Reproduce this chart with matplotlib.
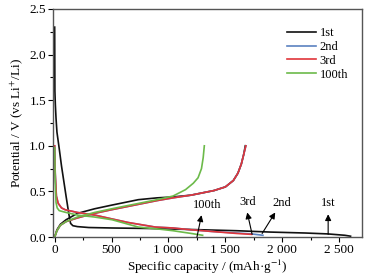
import matplotlib
matplotlib.use("Agg")
import matplotlib.pyplot as plt

plt.rcParams["font.family"] = ["Liberation Serif", "DejaVu Serif"]
plt.rcParams["mathtext.fontset"] = "stix"

# cycle data (capacity in mAh/g, potential in V)
c1_dis_x = [0, 2, 6, 12, 20, 40, 60, 100, 125, 140, 160, 200, 300, 500, 800, 1000, 1300, 1600, 1900, 2200, 2400, 2550, 2600]
c1_dis_y = [2.3, 1.6, 1.45, 1.3, 1.15, 0.97, 0.78, 0.45, 0.25, 0.15, 0.125, 0.115, 0.105, 0.1, 0.095, 0.09, 0.08, 0.07, 0.055, 0.045, 0.035, 0.02, 0.01]
c1_chg_x = [0, 20, 50, 100, 200, 350, 500, 735, 900, 1040, 1200, 1400, 1500, 1570, 1610, 1640, 1660, 1675]
c1_chg_y = [0.0, 0.08, 0.14, 0.19, 0.26, 0.31, 0.35, 0.41, 0.43, 0.44, 0.46, 0.51, 0.55, 0.62, 0.70, 0.80, 0.90, 1.0]

c2_dis_x = [0, 5, 15, 31, 60, 92, 200, 356, 500, 646, 884, 1040, 1200, 1400, 1600, 1730, 1830]
c2_dis_y = [1.0, 0.7, 0.45, 0.37, 0.32, 0.30, 0.27, 0.24, 0.20, 0.16, 0.11, 0.10, 0.08, 0.06, 0.045, 0.035, 0.02]
c2_chg_x = [0, 20, 50, 100, 200, 350, 500, 700, 900, 1040, 1200, 1400, 1500, 1570, 1610, 1640, 1660, 1680]
c2_chg_y = [0.0, 0.07, 0.13, 0.17, 0.21, 0.26, 0.30, 0.35, 0.40, 0.43, 0.46, 0.51, 0.55, 0.62, 0.70, 0.80, 0.90, 1.0]

c3_dis_x = [0, 5, 15, 31, 60, 92, 200, 356, 500, 646, 884, 1040, 1200, 1400, 1600, 1730]
c3_dis_y = [1.0, 0.7, 0.45, 0.37, 0.32, 0.30, 0.27, 0.24, 0.20, 0.16, 0.11, 0.10, 0.08, 0.06, 0.04, 0.03]
c3_chg_x = [0, 20, 50, 100, 200, 350, 500, 700, 900, 1040, 1200, 1400, 1500, 1570, 1610, 1640, 1660, 1680]
c3_chg_y = [0.0, 0.07, 0.13, 0.17, 0.21, 0.26, 0.30, 0.35, 0.40, 0.43, 0.46, 0.51, 0.55, 0.62, 0.70, 0.80, 0.90, 1.0]

c100_dis_x = [0, 5, 12, 22, 40, 100, 206, 350, 505, 735, 900, 1040, 1200, 1300]
c100_dis_y = [0.98, 0.6, 0.38, 0.32, 0.29, 0.27, 0.24, 0.22, 0.19, 0.11, 0.09, 0.07, 0.04, 0.02]
c100_chg_x = [0, 20, 50, 100, 200, 350, 500, 700, 900, 1040, 1150, 1218, 1260, 1290, 1305, 1315]
c100_chg_y = [0.0, 0.07, 0.13, 0.17, 0.22, 0.27, 0.31, 0.36, 0.41, 0.45, 0.52, 0.59, 0.65, 0.75, 0.87, 1.0]

labels = ["1st", "2nd", "3rd", "100th"]
colors = ["#111111", "#5b82c0", "#e0353a", "#6cba4a"]

# annotation positions: text, arrow head, arrow tail
ann_text = ["100th", "3rd", "2nd", "1st"]
ann_xy_text = [(1340, 0.35), (1692, 0.38), (1999, 0.37), (2403, 0.37)]
ann_head = [(1290, 0.24), (1692, 0.27), (1938, 0.27), (2403, 0.25)]
ann_tail = [(1250, 0.0), (1735, 0.03), (1823, 0.04), (2403, 0.03)]

fig = plt.figure(figsize=(3.81, 2.77), dpi=100)
ax = fig.add_axes([0.139, 0.144, 0.811, 0.824])

cycles = [
    (c1_dis_x, c1_dis_y, c1_chg_x, c1_chg_y),
    (c2_dis_x, c2_dis_y, c2_chg_x, c2_chg_y),
    (c3_dis_x, c3_dis_y, c3_chg_x, c3_chg_y),
    (c100_dis_x, c100_dis_y, c100_chg_x, c100_chg_y),
]
for (dx, dy, cx, cy), lab, col in zip(cycles, labels, colors):
    ax.plot(dx, dy, color=col, lw=1.2, label=lab)
    ax.plot(cx, cy, color=col, lw=1.2)

for txt, tpos, head, tail in zip(ann_text, ann_xy_text, ann_head, ann_tail):
    ax.text(tpos[0], tpos[1], txt, fontsize=9, ha="center", va="center")
    ax.annotate("", xy=head, xytext=tail,
                arrowprops=dict(arrowstyle="-|>", color="k", lw=0.8, mutation_scale=9,
                                shrinkA=0, shrinkB=0))

ax.set_xlim(-15, 2700)
ax.set_ylim(0, 2.5)
ax.set_xticks([0, 500, 1000, 1500, 2000, 2500])
ax.set_xticklabels(["0", "500", "1 000", "1 500", "2 000", "2 500"])
ax.set_xticks([250, 750, 1250, 1750, 2250], minor=True)
ax.set_yticks([0, 0.5, 1.0, 1.5, 2.0, 2.5])
ax.set_yticks([0.25, 0.75, 1.25, 1.75, 2.25], minor=True)
ax.tick_params(axis="both", which="major", direction="out", length=3.5, width=0.8, labelsize=9.5, pad=1.5)
ax.tick_params(axis="both", which="minor", direction="out", length=2.5, width=0.8)
for sp in ax.spines.values():
    sp.set_color("#555555")
    sp.set_linewidth(1.0)

ax.set_xlabel("Specific capacity / (mAh\u00b7g$^{-1}$)", fontsize=9.5, labelpad=1)
ax.set_ylabel("Potential / V (vs Li$^{+}$/Li)", fontsize=9.5, labelpad=3)

ax.legend(loc="upper left", bbox_to_anchor=(287 / 381, 1 - 27 / 277), bbox_transform=fig.transFigure,
          frameon=False, fontsize=9, handlelength=2.3, handletextpad=0.3, labelspacing=0.15,
          borderpad=0, borderaxespad=0)

fig.savefig("out.png", dpi=100)
plt.close(fig)
